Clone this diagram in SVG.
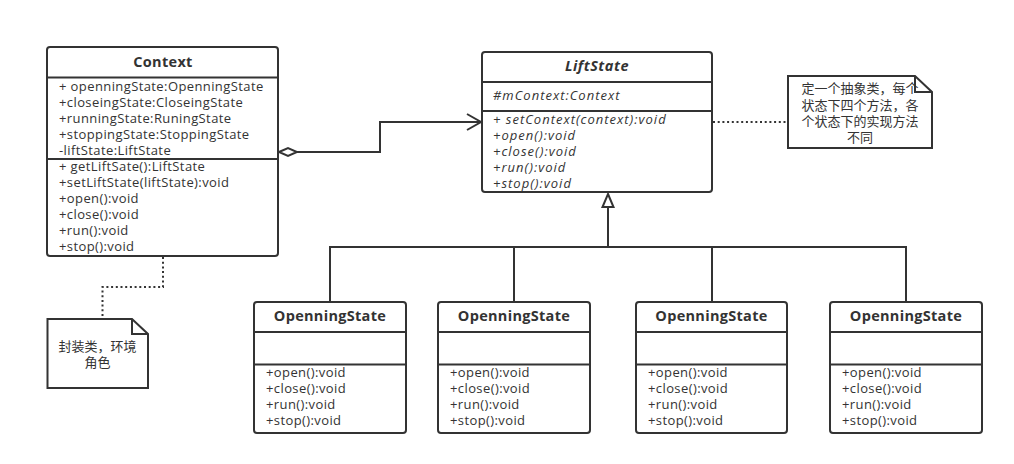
<svg xmlns="http://www.w3.org/2000/svg" width="1014" height="464" viewBox="0 0 1014 464">
<defs>
<style>
.box{fill:#fff;stroke:#333;stroke-width:2}
.ln{fill:none;stroke:#333;stroke-width:2}
.dot{fill:none;stroke:#333;stroke-width:2;stroke-dasharray:2 2.7}
text{font-family:"Open Sans","Noto Sans CJK SC",sans-serif;font-size:13px;letter-spacing:0.4px;fill:#333}
.t{font-weight:bold;text-anchor:middle;font-size:14.5px;letter-spacing:0.3px}
.i{font-style:italic;letter-spacing:1px}
.c{text-anchor:middle;font-size:13px;letter-spacing:0}
</style>
<marker id="open" markerWidth="20" markerHeight="20" refX="15" refY="9" orient="auto" markerUnits="userSpaceOnUse">
<path d="M1,1 L15,9 L1,17" fill="none" stroke="#333" stroke-width="2"/>
</marker>
</defs>
<rect width="1014" height="464" fill="#fff"/>

<g id="connectors">
<path class="ln" d="M297,152 H380 V122 H481" marker-end="url(#open)"/>
<path class="box" d="M279,152 L288,148 L297,152 L288,156 Z"/>
<path class="ln" d="M608,207 V247 M330,302 V247 H906 V302 M514,247 V302 M712,247 V302"/>
<path class="box" d="M608,194 L613.5,207 L602.5,207 Z"/>
<path class="dot" d="M713,122 H787"/>
<path class="dot" d="M163,257 V287 H102.5 V318"/>
</g>

<g id="context">
<rect class="box" x="47" y="47" width="231" height="209" rx="3"/>
<path class="ln" d="M47,77.5 H278 M47,159 H278"/>
<text class="t" x="163" y="67">Context</text>
<text x="59" y="91">+ openningState:OpenningState</text>
<text x="59" y="107">+closeingState:CloseingState</text>
<text x="59" y="123">+runningState:RuningState</text>
<text x="59" y="139">+stoppingState:StoppingState</text>
<text x="59" y="155">-liftState:LiftState</text>
<text x="59" y="171">+ getLiftSate():LiftState</text>
<text x="59" y="187">+setLiftState(liftState):void</text>
<text x="59" y="203">+open():void</text>
<text x="59" y="219">+close():void</text>
<text x="59" y="235">+run():void</text>
<text x="59" y="251">+stop():void</text>
</g>

<g id="liftstate">
<rect class="box" x="482" y="52" width="230" height="140" rx="3"/>
<path class="ln" d="M482,82 H712 M482,111 H712"/>
<text class="t i" x="597" y="71" style="letter-spacing:0.5px">LiftState</text>
<text class="i" x="493" y="100">#mContext:Context</text>
<text class="i" x="493" y="124">+ setContext(context):void</text>
<text class="i" x="493" y="140">+open():void</text>
<text class="i" x="493" y="156">+close():void</text>
<text class="i" x="493" y="172">+run():void</text>
<text class="i" x="493" y="188">+stop():void</text>
</g>

<g id="note-liftstate">
<path class="box" d="M788,76 H915 L932,92 V148 H788 Z"/>
<path class="ln" d="M915,76 V92 H932"/>
<text class="c" x="860" y="93">定一个抽象类，每个</text>
<text class="c" x="860" y="110">状态下四个方法，各</text>
<text class="c" x="860" y="126">个状态下的实现方法</text>
<text class="c" x="860" y="142">不同</text>
</g>

<g id="note-context">
<path class="box" d="M47.5,319 H132 L148,334 V388 H47.5 Z"/>
<path class="ln" d="M132,319 V334 H148"/>
<text class="c" x="97.5" y="351">封装类，环境</text>
<text class="c" x="97.5" y="367">角色</text>
</g>

<g id="state1">
<rect class="box" x="254" y="302" width="152" height="131" rx="3"/>
<path class="ln" d="M254,332 H406 M254,364.5 H406"/>
<text class="t" x="330" y="321">OpenningState</text>
<text x="266" y="377">+open():void</text>
<text x="266" y="393">+close():void</text>
<text x="266" y="409">+run():void</text>
<text x="266" y="425">+stop():void</text>
</g>

<g id="state2">
<rect class="box" x="438" y="302" width="152" height="131" rx="3"/>
<path class="ln" d="M438,332 H590 M438,364.5 H590"/>
<text class="t" x="514" y="321">OpenningState</text>
<text x="450" y="377">+open():void</text>
<text x="450" y="393">+close():void</text>
<text x="450" y="409">+run():void</text>
<text x="450" y="425">+stop():void</text>
</g>

<g id="state3">
<rect class="box" x="636" y="302" width="151" height="131" rx="3"/>
<path class="ln" d="M636,332 H787 M636,364.5 H787"/>
<text class="t" x="711.5" y="321">OpenningState</text>
<text x="648" y="377">+open():void</text>
<text x="648" y="393">+close():void</text>
<text x="648" y="409">+run():void</text>
<text x="648" y="425">+stop():void</text>
</g>

<g id="state4">
<rect class="box" x="830" y="302" width="152" height="131" rx="3"/>
<path class="ln" d="M830,332 H982 M830,364.5 H982"/>
<text class="t" x="906" y="321">OpenningState</text>
<text x="842" y="377">+open():void</text>
<text x="842" y="393">+close():void</text>
<text x="842" y="409">+run():void</text>
<text x="842" y="425">+stop():void</text>
</g>
</svg>
